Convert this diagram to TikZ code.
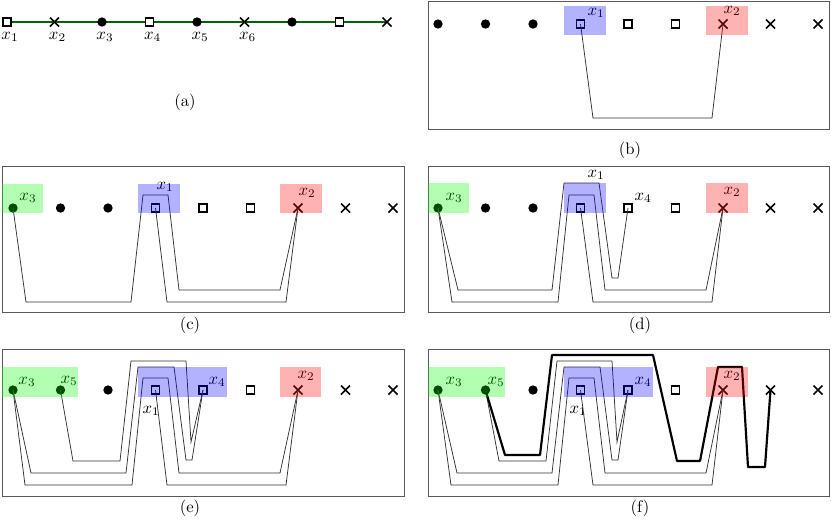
\documentclass[tikz,border=0pt]{standalone}
\usetikzlibrary{shapes.misc,backgrounds}

\tikzset{
  dotpt/.style={circle,fill,inner sep=0pt,minimum size=5.6pt},
  sqpt/.style={rectangle,draw,fill=white,line width=1pt,inner sep=0pt,minimum size=4.8pt},
  crosspt/.style={cross out,draw,line width=1pt,inner sep=0pt,minimum size=4.4pt},
  greenline/.style={draw={rgb,255:red,0;green,100;blue,0},line width=1.1pt},
  frame/.style={draw=black!65,line width=0.6pt},
  wire/.style={draw=black!80,line width=0.45pt},
  tour/.style={draw=black,line width=1.3pt,line join=round},
  hlgreen/.style={fill=green,fill opacity=0.3},
  hlblue/.style={fill=blue,fill opacity=0.3},
  hlred/.style={fill=red,fill opacity=0.3},
}

% the nine points of one panel, sorted by kind
\newcommand{\pointrow}[1]{%
  \foreach \i/\kind in {1/dotpt,2/dotpt,3/dotpt,4/sqpt,5/sqpt,6/sqpt,7/crosspt,8/crosspt,9/crosspt}
    \node[\kind] (#1\i) at (13+47.5*\i-47.5,0) {};%
}

\begin{document}
\begin{tikzpicture}[x=0.6pt,y=-0.6pt]
  \useasboundingbox (0,0) rectangle (831,521);

  % Panel (a)
  \foreach \i/\kind in {1/sqpt,2/crosspt,3/dotpt,4/sqpt,5/dotpt,6/crosspt,7/dotpt,8/sqpt,9/crosspt}
    \node[\kind] (a\i) at (7+47.5*\i-47.5,22) {};
  \begin{scope}[on background layer]
    \draw[greenline] (a1.center) -- (a9.center);
  \end{scope}
  \foreach \i in {1,...,6}
    \node (ax\i) at (10+47.5*\i-47.5,37) {$x_\i$};
  \node (capa) at (185,102) {(a)};

  % Panel (b)
  \begin{scope}[shift={(425,24)}]
    \draw[frame] (3,-23) rectangle (404,105);
    \pointrow{b}
    \node (bx1) at (171,-11) {$x_1$};
    \node (bx2) at (307,-13) {$x_2$};
    \draw[wire] (b4.center) -- (168,94) -- (287,94) -- (b7.center);
    \fill[hlblue] (139,-18) rectangle (181,11);
    \fill[hlred] (281,-18) rectangle (323,11);
  \end{scope}
  \node (capb) at (630,150) {(b)};

  % Panel (c)
  \begin{scope}[shift={(0,208)}]
    \draw[frame] (2,-42) rectangle (404,104);
    \pointrow{c}
    \node (cx3) at (28,-10) {$x_3$};
    \node (cx1) at (165,-21) {$x_1$};
    \node (cx2) at (307,-15) {$x_2$};
    \draw[wire] (c4.center) -- (167,94) -- (286,94) -- (c7.center);
    \draw[wire] (c1.center) -- (26,94) -- (131,94) -- (143,-13) -- (168,-13)
      -- (179,82) -- (280,82) -- (c7.center);
    \fill[hlgreen] (2,-24) rectangle (43,5);
    \fill[hlblue] (138,-24) rectangle (180,5);
    \fill[hlred] (280,-24) rectangle (322,5);
  \end{scope}
  \node (capc) at (190,325) {(c)};

  % Panel (d)
  \begin{scope}[shift={(425,208)}]
    \draw[frame] (3,-42) rectangle (404,104);
    \pointrow{d}
    \node (dx3) at (29,-10) {$x_3$};
    \node (dx1) at (171,-33) {$x_1$};
    \node (dx4) at (218,-10) {$x_4$};
    \node (dx2) at (307,-16) {$x_2$};
    \draw[wire] (d4.center) -- (168,94) -- (287,94) -- (d7.center);
    \draw[wire] (d1.center) -- (27,94) -- (133,94) -- (144,-13) -- (169,-13)
      -- (180,82) -- (281,82) -- (d7.center);
    \draw[wire] (d1.center) -- (33,82) -- (127,82) -- (139,-25) -- (174,-25)
      -- (187,70) -- (193,70) -- (d5.center);
    \fill[hlgreen] (3,-25) rectangle (44,5);
    \fill[hlblue] (139,-25) rectangle (181,5);
    \fill[hlred] (281,-25) rectangle (323,5);
  \end{scope}
  \node (capd) at (640,325) {(d)};

  % Panel (e)
  \begin{scope}[shift={(0,390)}]
    \draw[frame] (2,-41) rectangle (404,106);
    \pointrow{e}
    \node (ex3) at (27,-8) {$x_3$};
    \node (ex5) at (69,-9) {$x_5$};
    \node (ex4) at (217,-8) {$x_4$};
    \node (ex1) at (151,21) {$x_1$};
    \node (ex2) at (306,-14) {$x_2$};
    \draw[wire] (e4.center) -- (167,95) -- (286,95) -- (e7.center);
    \draw[wire] (e1.center) -- (25,95) -- (132,95) -- (143,-12) -- (168,-12)
      -- (179,83) -- (280,83) -- (e7.center);
    \draw[wire] (e1.center) -- (31,83) -- (126,83) -- (138,-23) -- (174,-23)
      -- (186,70) -- (192,70) -- (e5.center);
    \draw[wire] (e2.center) -- (73,71) -- (120,71) -- (131,-29) -- (186,-29)
      -- (191,52) -- (e5.center);
    \fill[hlgreen] (2,-23) rectangle (78,7);
    \fill[hlblue] (138,-23) rectangle (227,7);
    \fill[hlred] (280,-23) rectangle (321,7);
  \end{scope}
  \node (cape) at (190,508) {(e)};

  % Panel (f)
  \begin{scope}[shift={(425,390)}]
    \draw[frame] (3,-41) rectangle (404,106);
    \pointrow{f}
    \node (fx3) at (29,-8) {$x_3$};
    \node (fx5) at (71,-8) {$x_5$};
    \node (fx4) at (218,-8) {$x_4$};
    \node (fx1) at (153,21) {$x_1$};
    \node (fx2) at (307,-14) {$x_2$};
    \draw[wire] (f4.center) -- (168,95) -- (287,95) -- (f7.center);
    \draw[wire] (f1.center) -- (26,95) -- (133,95) -- (144,-12) -- (169,-12)
      -- (180,83) -- (281,83) -- (f7.center);
    \draw[wire] (f1.center) -- (32,83) -- (127,83) -- (139,-23) -- (175,-23)
      -- (187,70) -- (193,70) -- (f5.center);
    \draw[wire] (f2.center) -- (74,71) -- (121,71) -- (132,-29) -- (187,-29)
      -- (192,52) -- (f5.center);
    \draw[tour] (f2.center) -- (80,65) -- (115,65) -- (127,-35) -- (228,-35)
      -- (252,71) -- (275,71) -- (293,-23) -- (317,-23) -- (323,77) -- (340,77)
      -- (f8.center);
    \fill[hlgreen] (3,-23) rectangle (80,7);
    \fill[hlblue] (139,-23) rectangle (228,7);
    \fill[hlred] (281,-23) rectangle (323,7);
  \end{scope}
  \node (capf) at (640,508) {(f)};
\end{tikzpicture}
\end{document}
